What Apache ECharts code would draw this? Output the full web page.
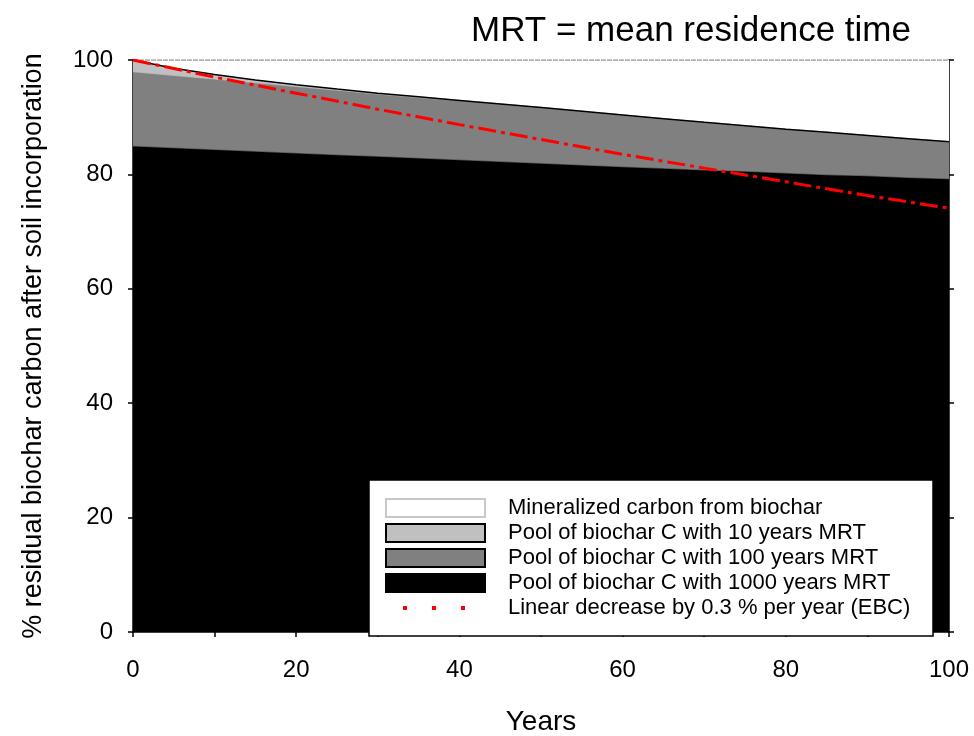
<!DOCTYPE html>
<html>
<head>
<meta charset="utf-8">
<script src="https://cdn.jsdelivr.net/npm/echarts@6/dist/echarts.min.js"></script>
<style>
html,body{margin:0;padding:0;background:#fff;}
#chart{width:974px;height:736px;}
</style>
</head>
<body>
<div id="chart"></div>
<script>
// Years after soil incorporation
const years = ['0', '5', '10', '15', '20', '25', '30', '35', '40', '45', '50', '55', '60', '65', '70', '75', '80', '85', '90', '95', '100'];
// Pool of biochar C with 1000 years MRT (%)
const pool1000 = [85.0, 84.7, 84.4, 84.1, 83.8, 83.5, 83.2, 82.9, 82.6, 82.3, 82.0, 81.7, 81.4, 81.1, 80.8, 80.6, 80.3, 80.0, 79.8, 79.5, 79.3];
// Pool of biochar C with 100 years MRT (%)
const pool100 = [13.0, 12.65, 12.3, 11.95, 11.6, 11.25, 10.9, 10.6, 10.3, 10.0, 9.7, 9.35, 9.0, 8.65, 8.3, 7.9, 7.6, 7.35, 7.0, 6.75, 6.4];
// Pool of biochar C with 10 years MRT (%)
const pool10 = [2.0, 1.2, 0.75, 0.45, 0.28, 0.17, 0.1, 0.06, 0.04, 0.02, 0.01, 0, 0, 0, 0, 0, 0, 0, 0, 0, 0];
// Mineralized carbon from biochar (%)
const mineralized = [0, 1.45, 2.55, 3.5, 4.32, 5.08, 5.8, 6.44, 7.06, 7.68, 8.29, 8.95, 9.6, 10.25, 10.9, 11.5, 12.1, 12.65, 13.2, 13.75, 14.3];
// Decrease by 0.3 % per year (EBC)
const linearYears = ['0', '10', '20', '30', '40', '50', '60', '70', '80', '90', '100'];
const linearValues = [100, 97.0, 94.2, 91.4, 88.7, 86.1, 83.5, 81.1, 78.7, 76.3, 74.1];

const names = {
  min: 'Mineralized carbon from biochar',
  p10: 'Pool of biochar C with 10 years MRT',
  p100: 'Pool of biochar C with 100 years MRT',
  p1000: 'Pool of biochar C with 1000 years MRT',
  lin: 'Linear decrease by 0.3 % per year (EBC)'
};

const FONT = '"Liberation Sans", Arial, sans-serif';

const chart = echarts.init(document.getElementById('chart'), null, {renderer: 'canvas'});

function areaSeries(name, vals, fill, lineColor, lineWidth, lineType, z) {
  return {
    name: name, type: 'line', stack: 'total', data: vals,
    symbol: 'none', showSymbol: false, smooth: false, z: z,
    lineStyle: {color: lineColor, width: lineWidth, type: lineType},
    areaStyle: {color: fill, opacity: 1},
    itemStyle: {color: fill},
    emphasis: {disabled: true}
  };
}

const option = {
  animation: false,
  backgroundColor: '#fff',
  title: {
    text: 'MRT = mean residence time',
    left: 466, top: 9,
    textStyle: {fontFamily: FONT, fontSize: 35, fontWeight: 'normal', color: '#000'}
  },
  grid: {left: 133, right: 25, top: 60, bottom: 104, containLabel: false, outerBoundsMode: 'none'},
  xAxis: {
    type: 'category', data: years, boundaryGap: false,
    name: 'Years', nameLocation: 'middle', nameGap: 76,
    nameTextStyle: {fontFamily: FONT, fontSize: 28, color: '#000'},
    axisLine: {show: true, onZero: false, lineStyle: {color: '#000', width: 1.5}},
    axisTick: {show: true, inside: false, length: 5, interval: 1, lineStyle: {color: '#000', width: 1.5}},
    axisLabel: {fontFamily: FONT, fontSize: 24, color: '#000', margin: 26, interval: 3},
    splitLine: {show: false}
  },
  yAxis: [{
    type: 'value', min: 0, max: 100, interval: 20, position: 'left',
    name: '% residual biochar carbon after soil incorporation',
    nameLocation: 'middle', nameGap: 86, nameRotate: 90,
    nameTextStyle: {fontFamily: FONT, fontSize: 27, color: '#000'},
    axisLine: {show: true, onZero: false, lineStyle: {color: '#000', width: 1.5}},
    axisTick: {show: true, inside: false, length: 5, lineStyle: {color: '#000', width: 1.5}},
    axisLabel: {fontFamily: FONT, fontSize: 24, color: '#000', margin: 20},
    splitLine: {show: false}
  }, {
    type: 'value', min: 0, max: 100, interval: 20, position: 'right',
    axisLine: {show: true, onZero: false, lineStyle: {color: '#000', width: 1.5}},
    axisTick: {show: true, inside: false, length: 5, lineStyle: {color: '#000', width: 1.5}},
    axisLabel: {show: false},
    splitLine: {show: false}
  }],
  legend: {
    orient: 'vertical', left: 384, top: 497,
    itemWidth: 99, itemHeight: 18, itemGap: 3,
    padding: 0,
    backgroundColor: 'transparent', borderWidth: 0,
    selectedMode: false, z: 10,
    textStyle: {fontFamily: FONT, fontSize: 22, color: '#000', lineHeight: 18, padding: [0, 0, 0, 18]},
    data: [
      {name: names.min, icon: 'rect', itemStyle: {color: '#fff', borderColor: '#c8c8c8', borderWidth: 2}},
      {name: names.p10, icon: 'rect', itemStyle: {color: '#c0c0c0', borderColor: '#000', borderWidth: 2}},
      {name: names.p100, icon: 'rect', itemStyle: {color: '#808080', borderColor: '#000', borderWidth: 2}},
      {name: names.p1000, icon: 'rect', itemStyle: {color: '#000', borderColor: '#000', borderWidth: 2}},
      {name: names.lin, itemStyle: {opacity: 0}, lineStyle: {color: '#ff0000', width: 4, type: [4, 25], dashOffset: 12, cap: 'butt'}}
    ]
  },
  graphic: [{
    type: 'rect', z: 9, silent: true,
    shape: {x: 369, y: 480, width: 564, height: 156},
    style: {fill: '#fff', stroke: '#000', lineWidth: 1.5}
  }],
  series: [
    areaSeries(names.p1000, pool1000, '#000', '#555', 1.5, 'solid', 2),
    areaSeries(names.p100, pool100, '#808080', '#b0b0b0', 1.5, 'solid', 3),
    areaSeries(names.p10, pool10, '#c0c0c0', '#000', 1.5, 'solid', 4),
    areaSeries(names.min, mineralized, '#fff', '#999', 1.5, [5, 1], 1),
    {
      name: names.lin, type: 'line', data: linearYears.map((x, i) => [x, linearValues[i]]),
      symbol: 'none', showSymbol: false, z: 6,
      lineStyle: {color: '#ff0000', width: 3, type: [18, 5, 4, 5], cap: 'butt'},
      itemStyle: {color: '#ff0000'},
      emphasis: {disabled: true}
    }
  ]
};
chart.setOption(option);
</script>
</body>
</html>
